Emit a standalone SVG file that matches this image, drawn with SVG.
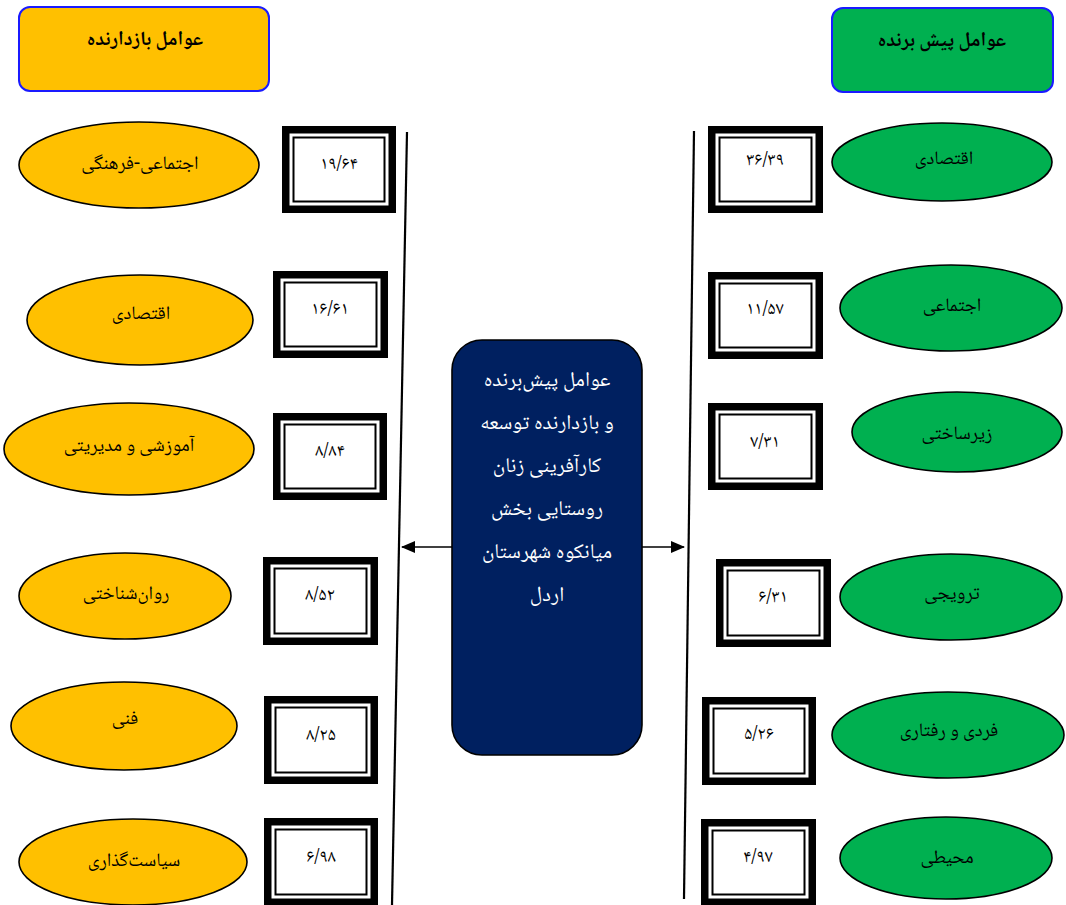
<svg xmlns="http://www.w3.org/2000/svg" width="1066" height="905" viewBox="0 0 1066 905">
<style>
text{font-family:"Noto Naskh Arabic","Noto Sans Arabic","DejaVu Sans",sans-serif;text-anchor:middle;fill:#000}
.hdr{stroke:#1a1aff;stroke-width:2}
.hl{font-size:20px;font-weight:bold}
.ey{fill:#ffc000;stroke:#000;stroke-width:1.6}
.eg{fill:#00b050;stroke:#000;stroke-width:1.6}
.et{font-size:19px}
.bo{fill:#000}
.bi{fill:#fff}
.bl{fill:none;stroke:#000;stroke-width:2}
.num{font-size:18px}
.ct{font-size:21px;fill:#fff}
.conn{stroke:#000;stroke-width:1.6;fill:none}
.vl{stroke:#000;stroke-width:2.2;fill:none}
</style>
<defs>
<marker id="ah" markerWidth="14" markerHeight="12" refX="13" refY="6" orient="auto" markerUnits="userSpaceOnUse">
<path d="M0,0 L14,6 L0,12 Z" fill="#000"/>
</marker>
</defs>
<rect width="1066" height="905" fill="#fff"/>

<g id="hdr-left"><rect class="hdr" x="19" y="7" width="250" height="84" rx="11" fill="#ffc000"/><text class="hl" x="145" y="45">عوامل بازدارنده</text></g>
<g id="hdr-right"><rect class="hdr" x="832" y="8" width="221" height="84" rx="11" fill="#00b050"/><text class="hl" x="942" y="46">عوامل پیش برنده</text></g>

<g id="center"><rect x="452" y="340" width="190" height="415" rx="30" fill="#002060" stroke="#000" stroke-width="1.6"/>
<text class="ct" x="547" y="386">عوامل پیش‌برنده</text>
<text class="ct" x="547" y="429">و بازدارنده توسعه</text>
<text class="ct" x="547" y="472">کارآفرینی زنان</text>
<text class="ct" x="547" y="515">روستایی بخش</text>
<text class="ct" x="547" y="558">میانکوه شهرستان</text>
<text class="ct" x="547" y="601">اردل</text>
</g>

<g id="connectors">
<line class="vl" x1="407" y1="132" x2="392" y2="905"/>
<line class="vl" x1="694" y1="131" x2="684" y2="899"/>
<line class="conn" x1="452" y1="547" x2="402" y2="547" marker-end="url(#ah)"/>
<line class="conn" x1="642" y1="547" x2="684" y2="547" marker-end="url(#ah)"/>
</g>

<g id="l1"><ellipse class="ey" cx="139" cy="165" rx="120" ry="43"/><text class="et" x="140" y="169">اجتماعی-فرهنگی</text></g>
<g id="l2"><ellipse class="ey" cx="140" cy="320" rx="113" ry="45"/><text class="et" x="141" y="319">اقتصادی</text></g>
<g id="l3"><ellipse class="ey" cx="129" cy="449" rx="125" ry="46"/><text class="et" x="129" y="451">آموزشی و مدیریتی</text></g>
<g id="l4"><ellipse class="ey" cx="125" cy="596" rx="106" ry="43"/><text class="et" x="126" y="599">روان‌شناختی</text></g>
<g id="l5"><ellipse class="ey" cx="124" cy="726" rx="113" ry="44"/><text class="et" x="125" y="724">فنی</text></g>
<g id="l6"><ellipse class="ey" cx="133" cy="862" rx="114" ry="43"/><text class="et" x="134" y="866">سیاست‌گذاری</text></g>

<g id="r1"><ellipse class="eg" cx="942" cy="162" rx="110" ry="39"/><text class="et" x="944" y="164">اقتصادی</text></g>
<g id="r2"><ellipse class="eg" cx="951" cy="308" rx="111" ry="43"/><text class="et" x="952" y="311">اجتماعی</text></g>
<g id="r3"><ellipse class="eg" cx="957" cy="432" rx="105" ry="40"/><text class="et" x="957" y="439">زیرساختی</text></g>
<g id="r4"><ellipse class="eg" cx="951" cy="597" rx="111" ry="43"/><text class="et" x="952" y="599">ترویجی</text></g>
<g id="r5"><ellipse class="eg" cx="948" cy="735" rx="116" ry="43"/><text class="et" x="949" y="736">فردی و رفتاری</text></g>
<g id="r6"><ellipse class="eg" cx="946" cy="858" rx="106" ry="41"/><text class="et" x="947" y="863">محیطی</text></g>

<g id="bl1"><rect class="bo" x="282" y="126" width="114" height="87"/><rect class="bi" x="289.5" y="133.5" width="99" height="72"/><rect class="bl" x="293.5" y="137.5" width="91" height="64"/><text class="num" x="339" y="169">۱۹/۶۴</text></g>
<g id="bl2"><rect class="bo" x="273" y="271" width="115" height="87"/><rect class="bi" x="280.5" y="278.5" width="100" height="72"/><rect class="bl" x="284.5" y="282.5" width="92" height="64"/><text class="num" x="330" y="314">۱۶/۶۱</text></g>
<g id="bl3"><rect class="bo" x="273" y="413" width="114" height="87"/><rect class="bi" x="280.5" y="420.5" width="99" height="72"/><rect class="bl" x="284.5" y="424.5" width="91" height="64"/><text class="num" x="330" y="456">۸/۸۴</text></g>
<g id="bl4"><rect class="bo" x="263" y="557" width="115" height="88"/><rect class="bi" x="270.5" y="564.5" width="100" height="73"/><rect class="bl" x="274.5" y="568.5" width="92" height="65"/><text class="num" x="320" y="600">۸/۵۲</text></g>
<g id="bl5"><rect class="bo" x="264" y="696" width="114" height="88"/><rect class="bi" x="271.5" y="703.5" width="99" height="73"/><rect class="bl" x="275.5" y="707.5" width="91" height="65"/><text class="num" x="321" y="740">۸/۲۵</text></g>
<g id="bl6"><rect class="bo" x="264" y="818" width="114" height="88"/><rect class="bi" x="271.5" y="825.5" width="99" height="73"/><rect class="bl" x="275.5" y="829.5" width="91" height="65"/><text class="num" x="321" y="862">۶/۹۸</text></g>

<g id="br1"><rect class="bo" x="708" y="126" width="115" height="87"/><rect class="bi" x="715.5" y="133.5" width="100" height="72"/><rect class="bl" x="719.5" y="137.5" width="92" height="64"/><text class="num" x="765" y="165">۳۶/۳۹</text></g>
<g id="br2"><rect class="bo" x="708" y="272" width="115" height="87"/><rect class="bi" x="715.5" y="279.5" width="100" height="72"/><rect class="bl" x="719.5" y="283.5" width="92" height="64"/><text class="num" x="765" y="314">۱۱/۵۷</text></g>
<g id="br3"><rect class="bo" x="708" y="403" width="115" height="87"/><rect class="bi" x="715.5" y="410.5" width="100" height="72"/><rect class="bl" x="719.5" y="414.5" width="92" height="64"/><text class="num" x="765" y="447">۷/۳۱</text></g>
<g id="br4"><rect class="bo" x="716" y="559" width="115" height="88"/><rect class="bi" x="723.5" y="566.5" width="100" height="73"/><rect class="bl" x="727.5" y="570.5" width="92" height="65"/><text class="num" x="773" y="602">۶/۳۱</text></g>
<g id="br5"><rect class="bo" x="702" y="697" width="114" height="88"/><rect class="bi" x="709.5" y="704.5" width="99" height="73"/><rect class="bl" x="713.5" y="708.5" width="91" height="65"/><text class="num" x="759" y="739">۵/۲۶</text></g>
<g id="br6"><rect class="bo" x="701" y="819" width="115" height="87"/><rect class="bi" x="708.5" y="826.5" width="100" height="72"/><rect class="bl" x="712.5" y="830.5" width="92" height="64"/><text class="num" x="758" y="862">۴/۹۷</text></g>
</svg>
